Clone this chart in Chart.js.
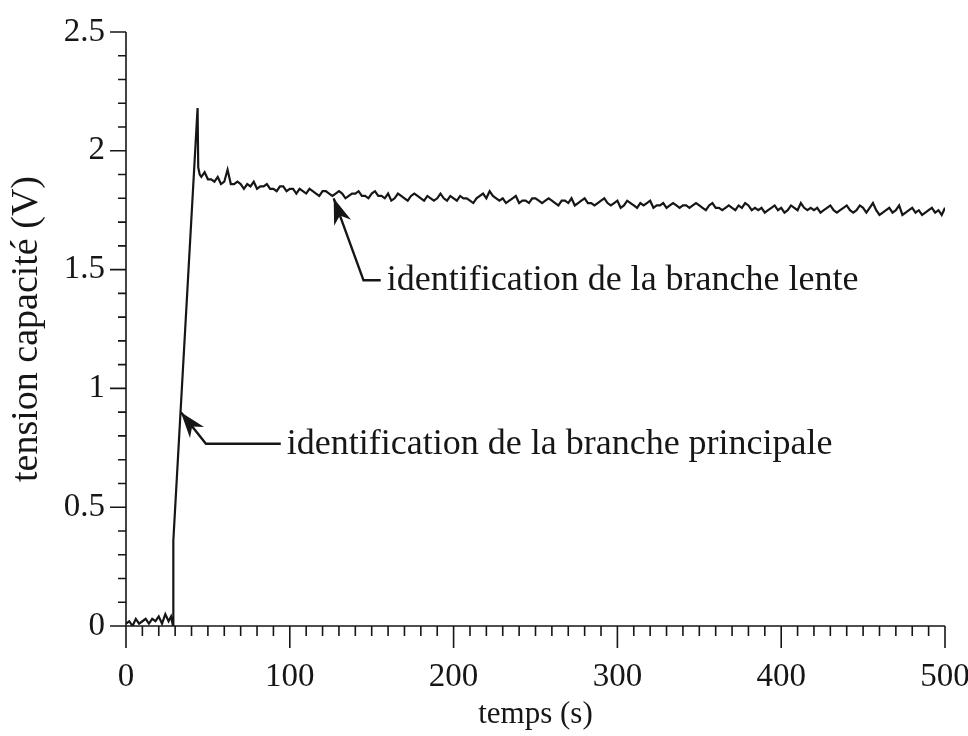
<!DOCTYPE html>
<html lang="fr">
<head>
<meta charset="UTF-8">
<title>Tension capacité</title>
<script src="https://cdn.jsdelivr.net/npm/chart.js"></script>
<style>
  html, body { margin: 0; padding: 0; background: #fff; }
</style>
</head>
<body>
<canvas id="graphe" width="968" height="736"></canvas>
<script>
// temps (s)
const temps = [
  0, 2, 4, 6, 8, 10, 12, 14, 16, 18, 20, 22, 24, 26, 27.5, 28.7, 28.9, 43.7, 44.1, 45,
  46, 48, 50, 52, 54, 56, 58, 60, 62, 64,
  66, 68, 70, 72, 74, 76, 78, 80, 82, 84,
  86, 88, 90, 92, 94, 96, 98, 100, 102, 104,
  106, 108, 110, 112, 114, 116, 118, 120, 122, 124,
  126, 128, 130, 132, 134, 136, 138, 140, 142, 144,
  146, 148, 150, 152, 154, 156, 158, 160, 162, 164,
  166, 168, 170, 172, 174, 176, 178, 180, 182, 184,
  186, 188, 190, 192, 194, 196, 198, 200, 202, 204,
  206, 208, 210, 212, 214, 216, 218, 220, 222, 224,
  226, 228, 230, 232, 234, 236, 238, 240, 242, 244,
  246, 248, 250, 252, 254, 256, 258, 260, 262, 264,
  266, 268, 270, 272, 274, 276, 278, 280, 282, 284,
  286, 288, 290, 292, 294, 296, 298, 300, 302, 304,
  306, 308, 310, 312, 314, 316, 318, 320, 322, 324,
  326, 328, 330, 332, 334, 336, 338, 340, 342, 344,
  346, 348, 350, 352, 354, 356, 358, 360, 362, 364,
  366, 368, 370, 372, 374, 376, 378, 380, 382, 384,
  386, 388, 390, 392, 394, 396, 398, 400, 402, 404,
  406, 408, 410, 412, 414, 416, 418, 420, 422, 424,
  426, 428, 430, 432, 434, 436, 438, 440, 442, 444,
  446, 448, 450, 452, 454, 456, 458, 460, 462, 464,
  466, 468, 470, 472, 474, 476, 478, 480, 482, 484,
  486, 488, 490, 492, 494, 496, 498, 500
]

// tension capacité (V)
const tension = [
  0.01, 0.02, 0.00, 0.03, 0.01, 0.02, 0.03, 0.01, 0.03, 0.02, 0.04, 0.01, 0.05, 0.02, 0.04, 0.00, 0.36, 2.18, 1.93, 1.90,
  1.89, 1.91, 1.88, 1.88, 1.87, 1.89, 1.86, 1.87, 1.92, 1.86,
  1.86, 1.87, 1.86, 1.84, 1.86, 1.85, 1.87, 1.84, 1.85, 1.85,
  1.86, 1.84, 1.84, 1.83, 1.85, 1.85, 1.83, 1.84, 1.84, 1.82,
  1.84, 1.83, 1.82, 1.84, 1.83, 1.82, 1.81, 1.83, 1.83, 1.82,
  1.81, 1.82, 1.83, 1.82, 1.80, 1.81, 1.82, 1.82, 1.83, 1.81,
  1.81, 1.80, 1.82, 1.83, 1.81, 1.81, 1.80, 1.82, 1.79, 1.80,
  1.82, 1.81, 1.80, 1.79, 1.81, 1.82, 1.81, 1.80, 1.79, 1.81,
  1.80, 1.79, 1.80, 1.82, 1.80, 1.79, 1.81, 1.80, 1.79, 1.81,
  1.80, 1.80, 1.79, 1.78, 1.80, 1.81, 1.82, 1.80, 1.83, 1.81,
  1.80, 1.79, 1.80, 1.78, 1.79, 1.80, 1.81, 1.78, 1.79, 1.79,
  1.78, 1.80, 1.80, 1.79, 1.78, 1.79, 1.80, 1.79, 1.78, 1.77,
  1.79, 1.79, 1.78, 1.80, 1.77, 1.78, 1.79, 1.80, 1.78, 1.78,
  1.77, 1.78, 1.79, 1.80, 1.78, 1.77, 1.78, 1.79, 1.76, 1.77,
  1.79, 1.78, 1.77, 1.76, 1.78, 1.77, 1.78, 1.79, 1.76, 1.77,
  1.77, 1.78, 1.76, 1.77, 1.78, 1.77, 1.76, 1.77, 1.77, 1.76,
  1.77, 1.78, 1.77, 1.76, 1.75, 1.77, 1.78, 1.76, 1.76, 1.75,
  1.76, 1.77, 1.76, 1.75, 1.77, 1.76, 1.78, 1.77, 1.75, 1.76,
  1.75, 1.76, 1.74, 1.75, 1.76, 1.77, 1.75, 1.76, 1.74, 1.75,
  1.77, 1.76, 1.75, 1.78, 1.76, 1.75, 1.76, 1.75, 1.76, 1.74,
  1.75, 1.76, 1.77, 1.75, 1.74, 1.75, 1.76, 1.77, 1.75, 1.74,
  1.75, 1.77, 1.76, 1.74, 1.76, 1.78, 1.75, 1.73, 1.74, 1.75,
  1.76, 1.74, 1.75, 1.77, 1.73, 1.74, 1.75, 1.76, 1.74, 1.75,
  1.73, 1.74, 1.75, 1.76, 1.74, 1.75, 1.73, 1.76
]

const ticksX = [0, 100, 200, 300, 400, 500]
const ticksY = [0, 0.5, 1, 1.5, 2, 2.5]

// flèches : pointe, coude, fin du trait (en unités des axes)
const fleches = [
  { texte: 'identification de la branche lente', pointe: [126.8, 1.80], coude: [145, 1.455], fin: [155.5, 1.455] },
  { texte: 'identification de la branche principale', pointe: [33.5, 0.90], coude: [48.8, 0.767], fin: [94.5, 0.767] },
]

const encre = '#161616'
const police = '"Liberation Serif", "Times New Roman", serif'

const arrondi = (v) => Math.round(v * 10) / 10

// axes et graduations dessinés à la main (longueurs différentes majeures / mineures)
const axesPlugin = {
  id: 'axes',
  afterDraw(chart) {
    const { ctx, chartArea: a, scales } = chart
    const x = scales.x
    const y = scales.y
    ctx.save()
    ctx.strokeStyle = encre
    ctx.lineWidth = 1.6
    ctx.beginPath()
    ctx.moveTo(a.left, a.top)
    ctx.lineTo(a.left, a.bottom)
    ctx.lineTo(a.right, a.bottom)
    y.ticks.forEach((t) => {
      const py = y.getPixelForValue(t.value)
      const major = ticksY.includes(arrondi(t.value))
      ctx.moveTo(a.left - (major ? 16 : 8), py)
      ctx.lineTo(a.left, py)
    })
    x.ticks.forEach((t) => {
      const px = x.getPixelForValue(t.value)
      const major = ticksX.includes(Math.round(t.value))
      ctx.moveTo(px, a.bottom)
      ctx.lineTo(px, a.bottom + (major ? 22 : 10))
    })
    ctx.stroke()
    ctx.restore()
  },
}

const flechesPlugin = {
  id: 'fleches',
  afterDraw(chart) {
    const { ctx, scales } = chart
    const px = (p) => [scales.x.getPixelForValue(p[0]), scales.y.getPixelForValue(p[1])]
    ctx.save()
    ctx.strokeStyle = encre
    ctx.fillStyle = encre
    ctx.lineWidth = 2.4
    fleches.forEach((f) => {
      const [x0, y0] = px(f.pointe)
      const [x1, y1] = px(f.coude)
      const [x2, y2] = px(f.fin)
      ctx.beginPath()
      ctx.moveTo(x0, y0)
      ctx.lineTo(x1, y1)
      ctx.lineTo(x2, y2)
      ctx.stroke()
      // pointe de flèche
      const ang = Math.atan2(y1 - y0, x1 - x0)
      const long = 26
      const larg = 9
      const bx = x0 + Math.cos(ang) * long
      const by = y0 + Math.sin(ang) * long
      ctx.beginPath()
      ctx.moveTo(x0, y0)
      ctx.lineTo(bx - Math.sin(ang) * larg, by + Math.cos(ang) * larg)
      ctx.lineTo(x0 + Math.cos(ang) * long * 0.7, y0 + Math.sin(ang) * long * 0.7)
      ctx.lineTo(bx + Math.sin(ang) * larg, by - Math.cos(ang) * larg)
      ctx.closePath()
      ctx.fill()
      ctx.font = '36px ' + police
      ctx.textAlign = 'left'
      ctx.textBaseline = 'alphabetic'
      ctx.fillText(f.texte, x2 + 6, y2 + 10)
    })
    ctx.restore()
  },
}

new Chart(document.getElementById('graphe'), {
  type: 'line',
  data: {
    datasets: [
      {
        data: temps.map((t, i) => ({ x: t, y: tension[i] })),
        borderColor: encre,
        borderWidth: 2.2,
        pointRadius: 0,
        tension: 0,
        fill: false,
      },
    ],
  },
  options: {
    responsive: false,
    animation: false,
    layout: { padding: { top: 32, right: 23, left: 0, bottom: 0 } },
    plugins: { legend: { display: false }, tooltip: { enabled: false } },
    scales: {
      x: {
        type: 'linear',
        min: 0,
        max: 500,
        grid: { display: false, drawTicks: false },
        border: { display: false },
        ticks: {
          stepSize: 10,
          autoSkip: false,
          maxRotation: 0,
          padding: 32,
          color: encre,
          font: { family: police, size: 33 },
          callback: (v) => (ticksX.includes(Math.round(v)) ? String(Math.round(v)) : ''),
        },
        title: {
          display: true,
          text: 'temps (s)',
          color: encre,
          font: { family: police, size: 31 },
          padding: { top: 0, bottom: 3 },
        },
        afterFit: (s) => {
          s.height = 110
          s.paddingLeft = 0
          s.paddingRight = 0
        },
      },
      y: {
        min: 0,
        max: 2.5,
        grid: { display: false, drawTicks: false },
        border: { display: false },
        ticks: {
          stepSize: 0.1,
          autoSkip: false,
          padding: 21,
          color: encre,
          font: { family: police, size: 33 },
          callback: (v) => (ticksY.includes(arrondi(v)) ? String(arrondi(v)) : ''),
        },
        title: {
          display: true,
          text: 'tension capacité (V)',
          color: encre,
          font: { family: police, size: 38 },
          padding: { top: 4, bottom: 0 },
        },
        afterFit: (s) => {
          s.width = 126
          s.paddingTop = 0
          s.paddingBottom = 0
        },
      },
    },
  },
  plugins: [axesPlugin, flechesPlugin],
})
</script>
</body>
</html>
